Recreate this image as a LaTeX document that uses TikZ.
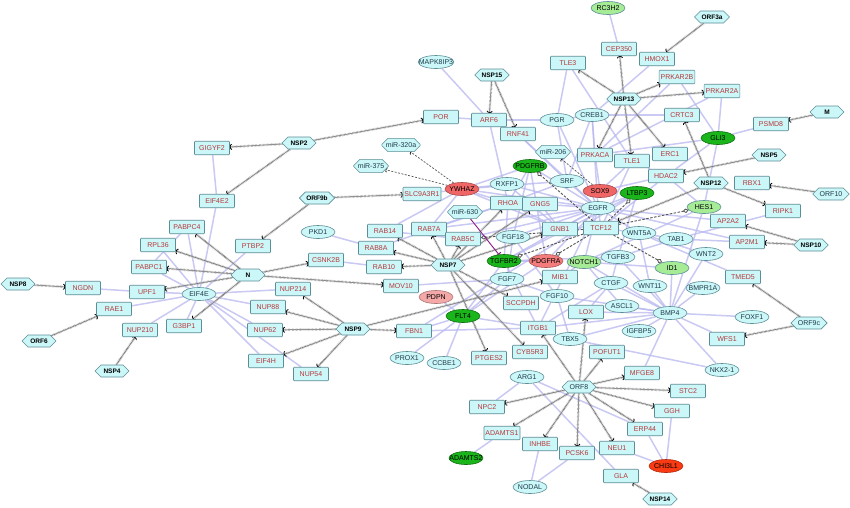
\documentclass[tikz,border=0pt]{standalone}
\usepackage{fontspec}
\setmainfont{Liberation Sans}
\usetikzlibrary{shapes.geometric,shapes.symbols,shapes.misc,arrows.meta}
\pgfdeclarelayer{lavl}
\pgfdeclarelayer{edg}
\pgfsetlayers{lavl,edg,main}
\definecolor{boxfill}{HTML}{CCF7F9}
\definecolor{boxdraw}{HTML}{5C8E96}
\definecolor{hosttext}{HTML}{B5383A}
\definecolor{elltext}{HTML}{1E3B48}
\definecolor{lav}{HTML}{B8B8F0}
\definecolor{zipc}{HTML}{9A9A9A}
\definecolor{zipd}{HTML}{555555}
\definecolor{tfc}{HTML}{555555}
\definecolor{gN}{HTML}{1AB51A}
\definecolor{lgN}{HTML}{A6EC96}
\definecolor{rN}{HTML}{F06666}
\definecolor{salN}{HTML}{F47C7C}
\definecolor{pinkN}{HTML}{F4A8A8}
\definecolor{orN}{HTML}{FA3A12}
\definecolor{purp}{HTML}{8A1A8A}
\tikzset{
  nb/.style={font=\fontsize{7}{8}\selectfont, line width=0.6pt, draw=boxdraw, fill=boxfill},
  hb/.style={nb, rectangle, rounded corners=0.8pt, text=hosttext, minimum width=35pt, minimum height=13.5pt, inner xsep=1.5pt, inner ysep=1pt},
  he/.style={nb, ellipse, text=elltext, minimum width=34pt, minimum height=13pt, inner xsep=-4.5pt, inner ysep=0pt},
  hg/.style={he, fill=gN, draw=gN!60!black, text=black},
  hlg/.style={he, fill=lgN, draw=boxdraw, text=black},
  hr/.style={he, fill=rN, draw=rN!70!black, text=black},
  hsal/.style={he, fill=salN, draw=salN!70!black, text=black},
  hpk/.style={he, fill=pinkN, draw=pinkN!70!black, text=black},
  hor/.style={he, fill=orN, draw=orN!70!black, text=black},
  vx/.style={nb, signal, signal to=east and west, text=black, font=\fontsize{6.5}{7}\selectfont\bfseries, minimum width=34pt, minimum height=12pt, inner xsep=1pt, inner ysep=1pt},
  vxn/.style={vx, font=\fontsize{7}{8}\selectfont, text=elltext},
  mr/.style={nb, chamfered rectangle, chamfered rectangle xsep=3pt, chamfered rectangle ysep=3pt, text=elltext, minimum width=34pt, minimum height=12pt, inner sep=1pt},
  lv/.style={draw=lav, line width=1.5pt, opacity=0.75},
  vh/.style={draw=zipc, line width=2.3pt, dash pattern=on 0.45pt off 0.9pt,
     -{Arc Barb[length=2pt,width=6pt,line width=0.8pt,color=black]},
     preaction={draw=zipd, line width=0.5pt, solid, arrows=-}},
  tfd/.style={draw=tfc, line width=0.9pt, dash pattern=on 2.5pt off 1.5pt,
     -{Diamond[length=6pt,width=4.5pt,line width=0.8pt,fill=white]}},
  mrd/.style={draw=tfc, line width=0.7pt, dash pattern=on 2pt off 1.5pt,
     -{Arc Barb[length=1.5pt,width=5pt,line width=0.7pt,color=black]}},
  inh/.style={draw=purp, line width=0.9pt, -{Bar[width=6pt,line width=1pt]}}
}
\begin{document}
\begin{tikzpicture}[x=1pt,y=-1pt]
\useasboundingbox (0,0) rectangle (850,507);
\begin{pgfonlayer}{lavl}
\fill[white] (0,0) rectangle (850,507);
\end{pgfonlayer}
% host boxes
\node[hb] (GIGYF2) at (212,148) {GIGYF2};
\node[hb] (POR) at (441,117) {POR};
\node[hb] (ARF6) at (489,120) {ARF6};
\node[hb] (RNF41) at (518,134) {RNF41};
\node[hb] (TLE3) at (568,63) {TLE3};
\node[hb] (CEP350) at (619,49) {CEP350};
\node[hb] (HMOX1) at (657,59) {HMOX1};
\node[hb] (PRKAR2B) at (677,77) {PRKAR2B};
\node[hb] (PRKAR2A) at (722,91) {PRKAR2A};
\node[hb] (PRKACA) at (595,155) {PRKACA};
\node[hb] (TLE1) at (632,161) {TLE1};
\node[hb] (ERC1) at (670,154) {ERC1};
\node[hb] (CRTC3) at (682,115) {CRTC3};
\node[hb] (PSMD8) at (771,124) {PSMD8};
\node[hb] (HDAC2) at (666,176) {HDAC2};
\node[hb] (RBX1) at (752,183) {RBX1};
\node[hb] (RIPK1) at (783,211) {RIPK1};
\node[hb] (AP2A2) at (728,221) {AP2A2};
\node[hb] (AP2M1) at (747,242) {AP2M1};
\node[hb] (TMED5) at (743,277) {TMED5};
\node[hb] (WFS1) at (727,339) {WFS1};
\node[hb] (EIF4E2) at (217,201) {EIF4E2};
\node[hb] (PABPC4) at (187,227) {PABPC4};
\node[hb] (PTBP2) at (253,246) {PTBP2};
\node[hb] (RPL36) at (158,245) {RPL36};
\node[hb] (PABPC1) at (149,267) {PABPC1};
\node[hb] (NGDN) at (83,288) {NGDN};
\node[hb] (UPF1) at (147,292) {UPF1};
\node[hb] (RAE1) at (114,309) {RAE1};
\node[hb] (NUP214) at (293,289) {NUP214};
\node[hb] (NUP88) at (268,307) {NUP88};
\node[hb] (NUP62) at (265,330) {NUP62};
\node[hb] (NUP210) at (140,330) {NUP210};
\node[hb] (G3BP1) at (184,326) {G3BP1};
\node[hb] (EIF4H) at (266,361) {EIF4H};
\node[hb] (NUP54) at (311,374) {NUP54};
\node[hb] (FBN1) at (414,331) {FBN1};
\node[hb] (SLC9A3R1) at (422,194) {SLC9A3R1};
\node[hb] (RAB14) at (385,231) {RAB14};
\node[hb] (RAB7A) at (429,229) {RAB7A};
\node[hb] (RAB5C) at (463,239) {RAB5C};
\node[hb] (RAB8A) at (376,248) {RAB8A};
\node[hb] (RAB10) at (384,267) {RAB10};
\node[hb] (CSNK2B) at (326,260) {CSNK2B};
\node[hb] (MOV10) at (401,286) {MOV10};
\node[hb] (RHOA) at (508,203) {RHOA};
\node[hb] (GNG5) at (540,204) {GNG5};
\node[hb] (GNB1) at (560,229) {GNB1};
\node[hb] (TCF12) at (601,228) {TCF12};
\node[hb] (MIB1) at (560,277) {MIB1};
\node[hb] (SCCPDH) at (521,303) {SCCPDH};
\node[hb] (LOX) at (586,312) {LOX};
\node[hb] (ITGB1) at (538,328) {ITGB1};
\node[hb] (CYB5R3) at (530,352) {CYB5R3};
\node[hb] (POFUT1) at (607,352) {POFUT1};
\node[hb] (PTGES2) at (489,358) {PTGES2};
\node[hb] (MFGE8) at (642,373) {MFGE8};
\node[hb] (STC2) at (688,391) {STC2};
\node[hb] (NPC2) at (487,407) {NPC2};
\node[hb] (GGH) at (672,411) {GGH};
\node[hb] (ADAMTS1) at (502,433) {ADAMTS1};
\node[hb] (ERP44) at (645,429) {ERP44};
\node[hb] (INHBE) at (540,444) {INHBE};
\node[hb] (PCSK6) at (577,453) {PCSK6};
\node[hb] (NEU1) at (617,448) {NEU1};
\node[hb] (GLA) at (621,476) {GLA};
% ellipses
\node[he] (MAPK8IP3) at (436,62) {MAPK8IP3};
\node[he] (PGR) at (557,120) {PGR};
\node[he] (CREB1) at (592,115) {CREB1};
\node[he] (SRF) at (567,181) {SRF};
\node[he] (RXFP1) at (507,184) {RXFP1};
\node[he] (EGFR) at (598,208) {EGFR};
\node[he] (FGF18) at (513,237) {FGF18};
\node[he] (WNT5A) at (639,233) {WNT5A};
\node[he] (TAB1) at (676,239) {TAB1};
\node[he] (WNT2) at (706,254) {WNT2};
\node[he] (TGFB3) at (618,257) {TGFB3};
\node[he] (FGF7) at (507,279) {FGF7};
\node[he] (CTGF) at (611,283) {CTGF};
\node[he] (WNT11) at (650,286) {WNT11};
\node[he] (BMPR1A) at (703,288) {BMPR1A};
\node[he] (FGF10) at (557,296) {FGF10};
\node[he] (ASCL1) at (622,306) {ASCL1};
\node[he] (BMP4) at (670,313) {BMP4};
\node[he] (IGFBP5) at (639,331) {IGFBP5};
\node[he] (TBX5) at (570,339) {TBX5};
\node[he] (FOXF1) at (752,317) {FOXF1};
\node[he] (NKX) at (722,370) {NKX2-1};
\node[he] (PKD1) at (318,232) {PKD1};
\node[he] (EIF4E) at (199,294) {EIF4E};
\node[he] (PROX1) at (407,358) {PROX1};
\node[he] (CCBE1) at (444,363) {CCBE1};
\node[he] (ARG1) at (527,377) {ARG1};
\node[he] (NODAL) at (530,487) {NODAL};
% coloured
\node[hlg] (RC3H2) at (608,8) {RC3H2};
\node[hg] (PDGFRB) at (530,166) {PDGFRB};
\node[hg] (LTBP3) at (637,193) {LTBP3};
\node[hg] (TGFBR2) at (504,261) {TGFBR2};
\node[hg] (FLT4) at (463,316) {FLT4};
\node[hg] (GLI3) at (718,138) {GLI3};
\node[hg] (ADAMTS2) at (466,458) {ADAMTS2};
\node[hlg] (HES1) at (704,207) {HES1};
\node[hlg] (NOTCH1) at (584,262) {NOTCH1};
\node[hlg] (ID1) at (672,268) {ID1};
\node[hr] (YWHAZ) at (462,189) {YWHAZ};
\node[hr] (SOX9) at (600,191) {SOX9};
\node[hsal] (PDGFRA) at (546,261) {PDGFRA};
\node[hpk] (PDPN) at (436,297) {PDPN};
\node[hor] (CHI3L1) at (666,466) {CHI3L1};
% miRNA
\node[mr] (m320) at (401,145) {miR-320a};
\node[mr] (m375) at (371,166) {miR-375};
\node[mr] (m206) at (553,152) {miR-206};
\node[mr] (m630) at (465,212) {miR-630};
% viral
\node[vx] (NSP15) at (492,75) {NSP15};
\node[vx] (NSP2) at (299,143) {NSP2};
\node[vx] (ORF3a) at (712,17) {ORF3a};
\node[vx] (NSP13) at (624,99) {NSP13};
\node[vx] (M) at (827,112) {M};
\node[vx] (NSP5) at (769,155) {NSP5};
\node[vx] (NSP12) at (711,183) {NSP12};
\node[vx] (NSP10) at (811,245) {NSP10};
\node[vx] (ORF9b) at (317,198) {ORF9b};
\node[vx] (N) at (248,275) {N};
\node[vx] (NSP8) at (18,284) {NSP8};
\node[vx] (ORF6) at (39,341) {ORF6};
\node[vx] (NSP4) at (112,371) {NSP4};
\node[vx] (NSP7) at (448,265) {NSP7};
\node[vx] (NSP9) at (353,329) {NSP9};
\node[vx] (NSP14) at (660,499) {NSP14};
\node[vxn] (ORF10) at (831,194) {ORF10};
\node[vxn] (ORF9c) at (809,323) {ORF9c};
\node[vxn] (ORF8) at (579,387) {ORF8};
% host-host
\begin{pgfonlayer}{lavl}
\foreach \a/\b in {GIGYF2/EIF4E2, EIF4E2/EIF4E, EIF4E/PABPC4, EIF4E/RPL36, EIF4E/PABPC1, EIF4E/UPF1, NGDN/UPF1, EIF4E/RAE1, EIF4E/G3BP1, EIF4E/NUP88, EIF4E/NUP62, EIF4E/NUP214, EIF4E/EIF4H, EIF4E/NUP54, EIF4E/NUP210, EIF4E/PTBP2, PABPC4/PABPC1, CSNK2B/RAB10, PKD1/RAB8A, MOV10/FGF7, MAPK8IP3/ARF6, POR/ARF6, ARF6/PGR, ARF6/RHOA, RNF41/EGFR, RNF41/SRF, TLE3/PGR, TLE3/TLE1, RC3H2/CEP350, HMOX1/CREB1, PRKAR2B/GLI3, PRKAR2A/GLI3, GLI3/PSMD8, GLI3/PRKACA, GLI3/HDAC2, GLI3/HES1, PRKAR2A/PRKACA, PRKAR2B/PRKACA, CREB1/PRKACA, CREB1/CRTC3, PGR/CREB1, CREB1/SRF, CREB1/EGFR, PGR/SRF, PGR/EGFR, HDAC2/TLE1, HDAC2/SOX9, HDAC2/TCF12, HDAC2/HES1, TLE1/TCF12, TLE1/SOX9, PRKACA/SOX9, YWHAZ/SLC9A3R1, YWHAZ/RAB14, YWHAZ/RXFP1, YWHAZ/PDGFRB, YWHAZ/SRF, YWHAZ/EGFR, YWHAZ/RHOA, YWHAZ/RAB7A, YWHAZ/GNB1, RAB7A/RAB5C, RAB7A/RHOA, RAB14/RAB5C, RAB5C/EGFR, RAB7A/EGFR, RAB8A/RHOA, PDGFRB/EGFR, PDGFRB/PDGFRA, PDGFRB/RHOA, PDGFRB/FGF18, SRF/EGFR, SRF/RHOA, RXFP1/GNB1, EGFR/GNB1, EGFR/TGFBR2, EGFR/PDGFRA, EGFR/NOTCH1, EGFR/LTBP3, EGFR/ITGB1, EGFR/AP2A2, EGFR/AP2M1, EGFR/FGF18, EGFR/WNT5A, EGFR/RXFP1, EGFR/GNG5, GNB1/GNG5, GNB1/RHOA, RHOA/TGFBR2, FGF18/FGF7, FGF7/FGF10, FGF18/FGF10, FGF10/TBX5, FGF10/BMP4, TGFBR2/TGFB3, TGFBR2/LTBP3, TGFB3/LTBP3, TGFBR2/PDGFRA, TGFBR2/ITGB1, TGFBR2/FLT4, NOTCH1/MIB1, NOTCH1/HES1, NOTCH1/ID1, NOTCH1/TGFB3, WNT5A/TAB1, WNT5A/WNT2, WNT5A/TMED5, WNT5A/WNT11, TAB1/AP2M1, TAB1/TGFB3, TAB1/RIPK1, TCF12/WNT5A, TCF12/EGFR, CTGF/TGFB3, CTGF/ITGB1, CTGF/BMP4, BMP4/BMPR1A, BMP4/WNT11, BMP4/FOXF1, BMP4/IGFBP5, BMP4/ASCL1, BMP4/WFS1, BMP4/NKX, BMP4/TBX5, BMP4/LOX, BMP4/ID1, BMP4/WNT2, BMP4/TGFB3, BMP4/NOTCH1, BMP4/ITGB1, BMP4/MFGE8, BMP4/HES1, ASCL1/NOTCH1, LOX/CTGF, FLT4/PDPN, FLT4/PROX1, FLT4/CCBE1, FLT4/FBN1, FLT4/ITGB1, FLT4/PDGFRA, FBN1/LTBP3, FBN1/ITGB1, ARG1/NPC2, ARG1/GLA, ARG1/ERP44, ADAMTS1/ADAMTS2, INHBE/NODAL, PCSK6/NODAL, GGH/CHI3L1, ERP44/CHI3L1, NEU1/CHI3L1, TBX5/NKX, FGF7/FLT4}
  \draw[lv] (\a) -- (\b);
\end{pgfonlayer}
% virus-host and regulatory
\begin{pgfonlayer}{edg}
\foreach \a/\b in {NSP2/GIGYF2, NSP2/POR, NSP2/EIF4E2, NSP15/ARF6, NSP15/RNF41, ORF3a/HMOX1, NSP13/CEP350, NSP13/TLE3, NSP13/PRKAR2B, NSP13/PRKAR2A, NSP13/PRKACA, NSP13/TLE1, NSP13/ERC1, M/PSMD8, NSP5/HDAC2, NSP12/CRTC3, NSP12/RIPK1, NSP12/TCF12, ORF10/RBX1, NSP10/AP2A2, NSP10/AP2M1, ORF9c/TMED5, ORF9c/WFS1, ORF9b/SLC9A3R1, ORF9b/PTBP2, N/PABPC4, N/RPL36, N/PABPC1, N/UPF1, N/G3BP1, N/CSNK2B, N/MOV10, NSP8/NGDN, ORF6/RAE1, NSP4/NUP210, NSP9/NUP214, NSP9/NUP88, NSP9/NUP62, NSP9/EIF4H, NSP9/NUP54, NSP9/FBN1, NSP9/MIB1, NSP7/RAB14, NSP7/RAB7A, NSP7/RAB5C, NSP7/RAB8A, NSP7/RAB10, NSP7/RHOA, NSP7/GNG5, NSP7/GNB1, NSP7/SCCPDH, NSP7/CYB5R3, NSP7/PTGES2, ORF8/ITGB1, ORF8/LOX, ORF8/POFUT1, ORF8/MFGE8, ORF8/STC2, ORF8/GGH, ORF8/ERP44, ORF8/NEU1, ORF8/PCSK6, ORF8/INHBE, ORF8/ADAMTS1, ORF8/NPC2, NSP14/GLA}
  \draw[vh] (\a) -- (\b);
\foreach \b in {PDGFRB, LTBP3, TGFBR2, PDGFRA, HES1, RAB5C}
  \draw[tfd] (TCF12) -- (\b);
\draw[tfd] (TCF12) -- (ID1);
\draw[mrd] (YWHAZ) -- (m320);
\draw[mrd] (YWHAZ) -- (m375);
\draw[mrd] (SOX9) -- (m206);
\draw[inh] (m630) -- (TGFBR2);
\end{pgfonlayer}
\end{tikzpicture}
\end{document}
